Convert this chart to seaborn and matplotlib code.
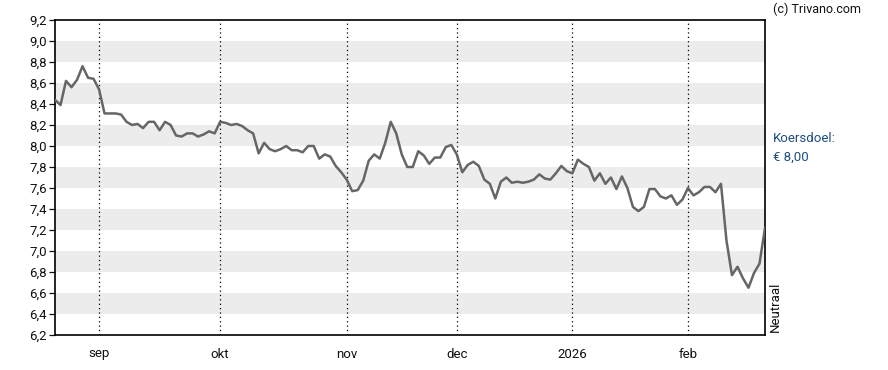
import numpy as np
import pandas as pd
import matplotlib
matplotlib.use("Agg")
import matplotlib.pyplot as plt
import seaborn as sns

# ---- data (trading-day index series) ----
prices = [
    8.44, 8.39, 8.62, 8.56, 8.63, 8.76, 8.65, 8.64, 8.54, 8.31,
    8.31, 8.31, 8.30, 8.23, 8.20, 8.21, 8.17, 8.23, 8.23, 8.15,
    8.23, 8.20, 8.10, 8.09, 8.12, 8.12, 8.09, 8.11, 8.14, 8.12,
    8.23, 8.22, 8.20, 8.21, 8.19, 8.15, 8.12, 7.93, 8.03, 7.97,
    7.95, 7.97, 8.00, 7.96, 7.96, 7.94, 8.00, 8.00, 7.88, 7.92,
    7.90, 7.81, 7.75, 7.68, 7.57, 7.58, 7.67, 7.86, 7.92, 7.88,
    8.03, 8.23, 8.12, 7.92, 7.80, 7.80, 7.95, 7.91, 7.83, 7.89,
    7.89, 7.99, 8.01, 7.92, 7.75, 7.82, 7.85, 7.81, 7.68, 7.64,
    7.50, 7.66, 7.70, 7.65, 7.66, 7.65, 7.66, 7.68, 7.73, 7.69,
    7.68, 7.74, 7.81, 7.76, 7.74, 7.87, 7.83, 7.80, 7.67, 7.74,
    7.64, 7.70, 7.59, 7.71, 7.60, 7.42, 7.38, 7.42, 7.59, 7.59,
    7.52, 7.50, 7.53, 7.44, 7.49, 7.60, 7.53, 7.56, 7.61, 7.61,
    7.56, 7.64, 7.10, 6.77, 6.85, 6.74, 6.65, 6.79, 6.88, 7.22,
]
month_labels = ["sep", "okt", "nov", "dec", "2026", "feb"]
month_index = [8, 30, 53, 73, 94, 115]
y_ticks = [6.2, 6.4, 6.6, 6.8, 7.0, 7.2, 7.4, 7.6, 7.8, 8.0, 8.2, 8.4, 8.6, 8.8, 9.0, 9.2]
band_lows = [6.4, 6.8, 7.2, 7.6, 8.0, 8.4, 8.8]
target_label = "Koersdoel:"
target_value = "€ 8,00"
rating = "Neutraal"
credit = "(c) Trivano.com"

df = pd.DataFrame({"idx": np.arange(len(prices)), "price": prices})

sns.set_theme(style="white")
plt.rcParams["font.family"] = ["Roboto", "DejaVu Sans"]

fig = plt.figure(figsize=(8.88, 3.70), dpi=100)
ax = fig.add_axes([55 / 888, 1 - 335 / 370, 710 / 888, 315 / 370])

for lo in band_lows:
    ax.axhspan(lo, lo + 0.2, color="#ececec", lw=0, zorder=0)

for m in month_index:
    ax.axvline(m, color="black", lw=0.9, ls=(0, (1, 2.5)), zorder=1)

sns.lineplot(data=df, x="idx", y="price", ax=ax, color="#666666", lw=1.8, zorder=3)

ax.set_xlim(0, len(prices) - 1)
ax.set_ylim(6.2, 9.2)
ax.set_yticks(y_ticks)
ax.set_yticklabels([f"{v:.1f}".replace(".", ",") for v in y_ticks])
ax.set_xticks(month_index)
ax.set_xticklabels(month_labels)
ax.set_xlabel("")
ax.set_ylabel("")
ax.tick_params(axis="y", labelsize=9.5, colors="#111111", length=4, width=0.9,
               direction="out", left=True, pad=2)
ax.tick_params(axis="x", labelsize=9.5, colors="#111111", length=0, pad=9)
for s in ax.spines.values():
    s.set_visible(True)
    s.set_color("black")
    s.set_linewidth(1.2)

fig.text(773 / 888, 1 - 9 / 370, credit, fontsize=9, color="#111111",
         ha="left", va="center")
fig.text(773 / 888, 1 - 139 / 370, target_label, fontsize=9.5, color="#1f4e80",
         ha="left", va="center")
fig.text(773 / 888, 1 - 157 / 370, target_value, fontsize=9.5, color="#1f4e80",
         ha="left", va="center")
fig.text(775 / 888, 1 - 332 / 370, rating, fontsize=9.5, color="#111111",
         ha="center", va="bottom", rotation=90)

fig.savefig("out.png", dpi=100)
